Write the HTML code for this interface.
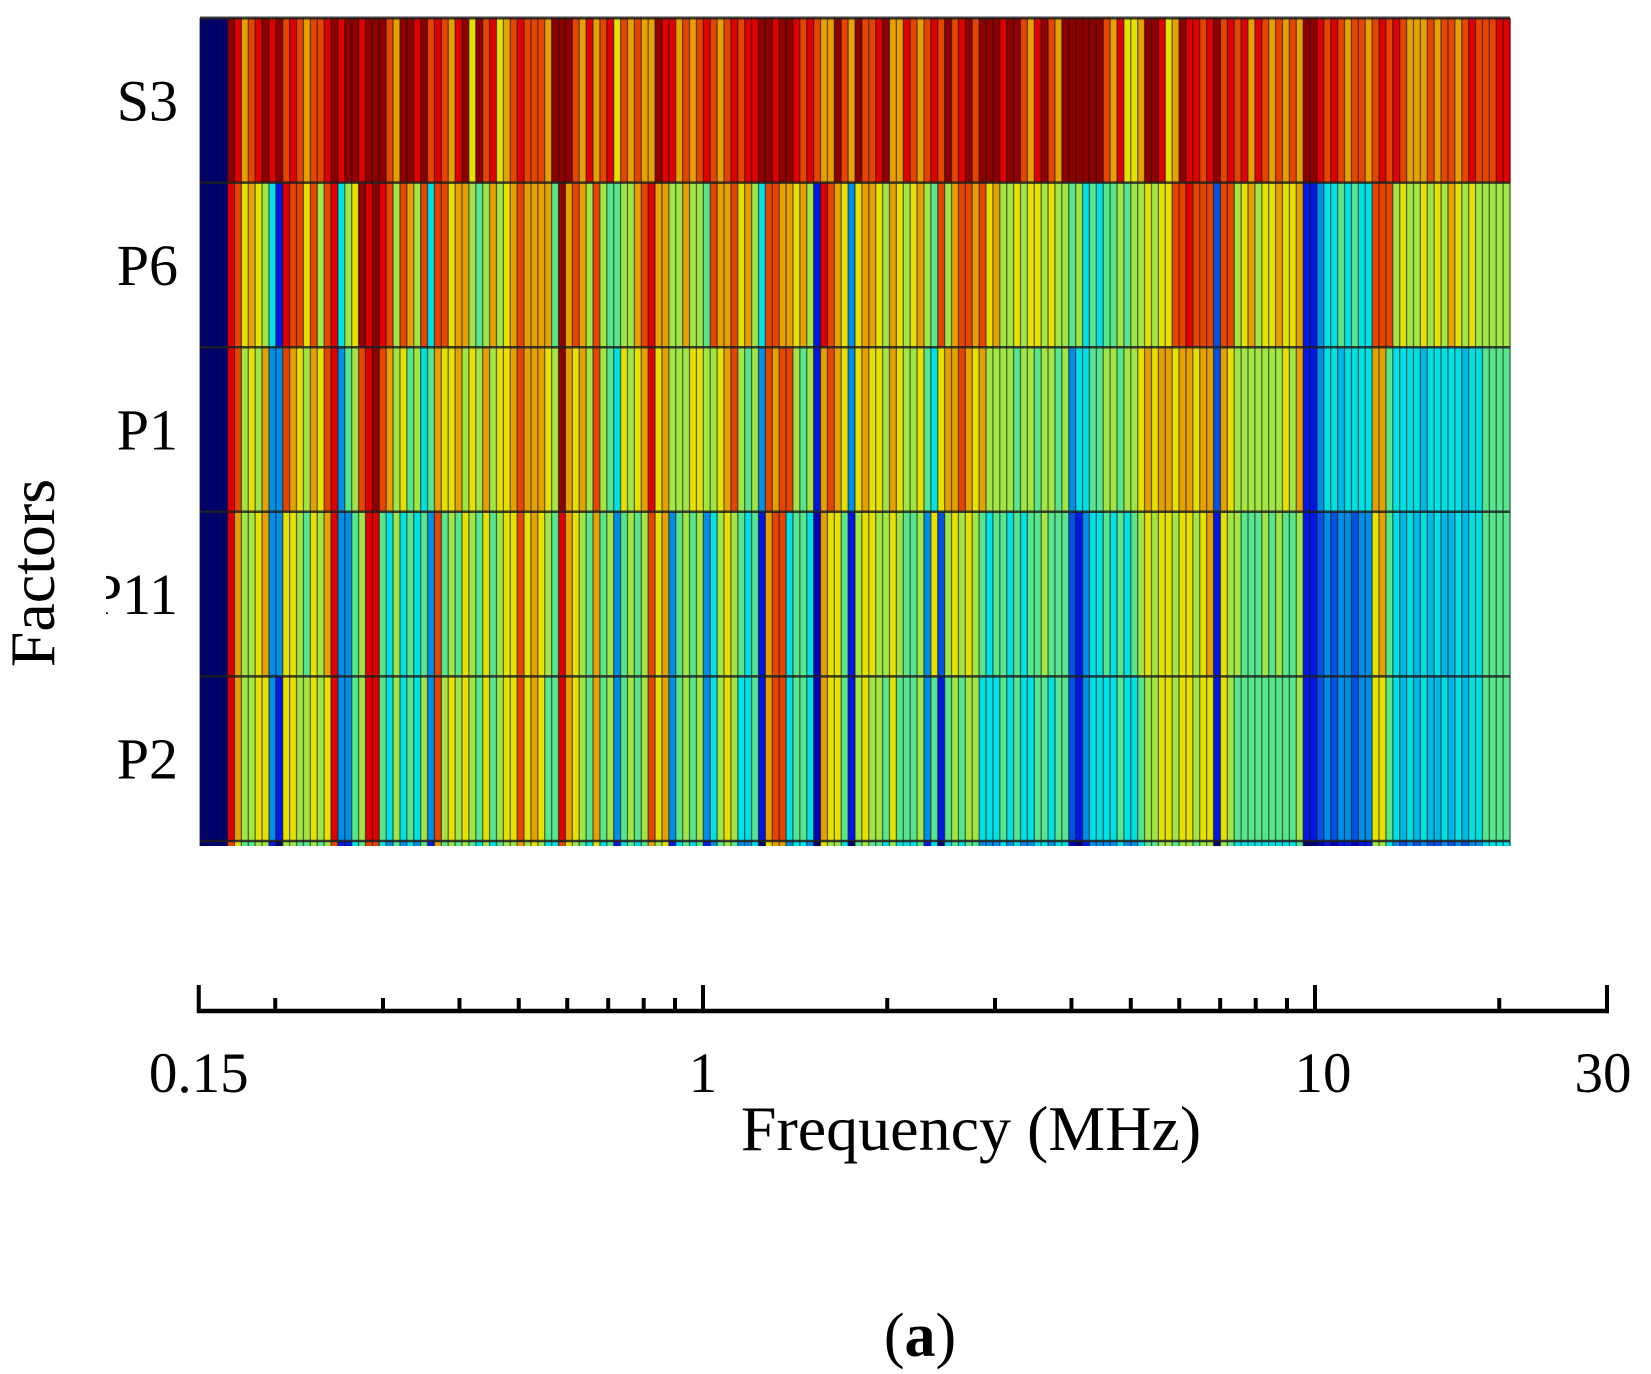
<!DOCTYPE html>
<html><head><meta charset="utf-8"><style>
html,body{margin:0;padding:0;background:#fff;}
svg{display:block;}
text{font-family:"Liberation Serif",serif;fill:#000;}
</style></head>
<body>
<svg id="chart" width="1651" height="1374" viewBox="0 0 1651 1374" xmlns="http://www.w3.org/2000/svg">
<g id="cells"></g>
<g id="grid"></g>
<g id="ylabels"></g>
<rect x="62" y="555" width="44" height="75" fill="#fff"/>
<text transform="translate(54,573) rotate(-90)" text-anchor="middle" font-size="64">Factors</text>
<g id="xaxis"></g>
<text x="971" y="1150" text-anchor="middle" font-size="64">Frequency (MHz)</text>
<text x="920" y="1356" text-anchor="middle" font-size="62">(<tspan font-weight="bold">a</tspan>)</text>
</svg>
<script>
const rowLabels = ["S3","P6","P1","P11","P2"];
const rowS3 = [0,0,0,0,10,9,7,8,9,10,9,10,8,9,8,7,8,8,9,10,9,10,10,9,10,10,10,8,7,10,10,9,10,8,9,8,7,9,10,6,10,8,9,6,7,8,9,8,8,
8,7,10,10,10,8,7,9,7,8,9,6,8,7,8,7,7,10,9,9,7,8,7,8,9,8,7,8,9,8,9,9,10,10,9,10,10,9,8,9,8,7,7,10,8,7,10,8,
8,9,10,7,7,9,8,7,8,9,8,10,8,9,10,8,10,10,10,9,10,10,8,7,9,10,8,7,10,10,10,10,10,10,8,7,9,6,6,7,10,10,9,6,7,10,9,9,8,
9,10,8,9,8,9,7,9,8,7,8,7,8,7,10,10,9,8,9,8,7,8,8,7,8,9,8,9,8,7,7,7,8,7,8,8,7,8,9,8,8,8,9,9];
const rowP6 = [0,0,0,0,9,8,6,7,6,5,3,1,9,8,8,6,8,5,8,9,3,5,6,10,9,10,9,8,5,8,7,5,8,3,8,8,6,7,7,5,4,5,7,5,6,7,8,7,7,
7,7,4,10,7,8,7,5,8,5,4,4,5,5,7,8,9,7,7,5,5,7,5,5,4,8,7,7,8,6,7,5,3,8,8,7,7,6,7,5,1,9,8,7,6,2,6,7,
7,6,5,7,6,5,6,7,5,4,8,5,7,8,8,7,8,6,7,5,5,6,5,6,6,5,6,5,5,4,5,3,4,3,4,4,5,4,5,5,6,5,6,6,8,8,9,8,8,
8,1.5,8,8,5,6,7,5,6,6,7,6,6,7,1,1,2,3,3,4,3,4,3,3,8,8,8,5,6,5,5,6,5,6,5,7,6,5,6,5,5,5,5,5];
const rowP1 = [0,0,0,0,9,8,5,6,5,7,2,2,8,7,6,5,7,6,8,9,2,4,5,8,9,10,8,7,5,6,4,5,3,4,7,6,6,7,5,6,5,7,5,6,6,7,8,7,7,
7,6,5,10,7,6,7,5,8,5,4,3,6,5,6,7,9,6,7,5,5,5,6,6,5,5,6,7,8,5,4,5,2,8,7,8,8,5,4,5,1,7,8,7,6,2,6,7,
6,6,5,7,6,5,5,6,4,3,6,7,7,8,7,6,7,5,5,5,5,4,5,5,4,5,5,4,5,2,3,3,4,4,5,5,4,5,5,6,7,6,7,7,6,7,7,6,7,
7,1.5,7,6,5,5,5,5,5,5,5,6,5,7,1,1,2,3,3,2.5,3,3,3,3,7,7,4,3,3,3,3,2.5,3,3,3,3,3,2.5,3,3,4,4,4,4];
const rowP11 = [0,0,0,0,9,7,5,5,6,7,2,2,6,6,5,4,6,5,7,9,2,2,4,5,9,9,4,3,5,3,4,3,4,2,8,4,5,4,6,5,4,6,4,5,6,6,8,6,7,
6,5,4,9,7,6,5,4,7,4,5,2,4,5,4,5,8,6,7,2,4,5,4,5,2,3,5,6,5,4,3,4,1,7,8,8,3,4,4,3,0.5,7,6,6,4,1,5,6,
6,5,5,6,5,4,4,5,2,6,1.5,5,6,5,6,5,4,3,4,4,3,4,3,4,4,5,4,4,4,1.5,1,2,3,3,4,3,4,3,4,5,6,5,6,6,5,6,6,5,6,
7,1,6,5,5,4,4,4,5,4,5,4,4,5,1,1,1.5,2,1.5,2,2,1.5,2,2,6,7,4,3,2.5,3,2.5,3,2.5,3,2.5,2.5,3,2.5,3,3,4,4,4,4];
const rowP2 = [0,0,0,0,9,7,5,5,6,6,2,1,6,6,5,5,6,5,6,9,2,2,4,5,9,9,4,3,5,3,4,3,5,2,8,5,6,5,6,5,4,6,4,5,6,6,8,6,7,
6,4,4,9,7,6,5,4,7,4,5,2,4,5,4,5,8,6,7,2,4,5,4,5,2,3,5,6,5,3,3,4,1,7,8,8,3,4,4,3,0.5,7,6,6,4,1,5,6,
5,5,4,6,4,4,4,5,2,4,1,4,5,4,5,5,3,3,3,4,3,4,3,3,4,4,3,4,4,1.5,1,2,3,3,3,3,4,3,3,4,5,5,6,6,5,6,6,5,6,
6,1,6,5,4,4,4,4,4,4,4,4,4,5,1,1,1.5,2,1.5,2,2,1.5,2,2,6,6,4,3,2.5,3,2.5,3,2.5,2.5,3,2.5,3,2.5,3,3,4,4,4,4];
const rows = [rowS3,rowP6,rowP1,rowP11,rowP2];
const majorTicks = [0.15,1,10,30];
const majorTickLabels = ["0.15","1","10","30"];
const minorTicks = [0.2,0.3,0.4,0.5,0.6,0.7,0.8,0.9,2,3,4,5,6,7,8,9,20];

const NS="http://www.w3.org/2000/svg";
const plotL=200, plotR=1510, plotT=18, rowH=164.6;
const nCols=rowS3.length;
const colW=(plotR-plotL)/nCols;
function xCol(i){return plotL+i*colW;}
function yRow(r){return plotT+r*rowH;}
const levelT=[0,0.15,0.28,0.37,0.47,0.55,0.63,0.7,0.8,0.88,0.97];
function jet(v){
  const lo=Math.floor(v), hi=Math.min(10,lo+1), f=v-lo;
  const t=levelT[lo]+(levelT[hi]-levelT[lo])*f;
  const c=x=>Math.round(255*Math.max(0,Math.min(1,x))*0.9);
  return `rgb(${c(1.5-Math.abs(4*t-3))},${c(1.5-Math.abs(4*t-2))},${c(1.5-Math.abs(4*t-1))})`;
}
const cells=document.getElementById('cells');
function cell(x,y,w,h,v){
  const r=document.createElementNS(NS,'rect');
  r.setAttribute('x',x);r.setAttribute('y',y);r.setAttribute('width',w+0.6);r.setAttribute('height',h);
  r.setAttribute('fill',jet(v));
  
  
  cells.appendChild(r);
}
rows.forEach((row,r)=>{row.forEach((v,i)=>cell(xCol(i),yRow(r),colW,rowH,v));});
rowP2.forEach((v,i)=>cell(xCol(i),yRow(5),colW,5,Math.max(0,v-1)));
const grid=document.getElementById('grid');
for(let i=0;i<=nCols;i++){
  const l=document.createElementNS(NS,'line');
  l.setAttribute('x1',xCol(i));l.setAttribute('x2',xCol(i));
  l.setAttribute('y1',plotT);l.setAttribute('y2',yRow(5)+5);
  l.setAttribute('stroke','rgba(20,20,20,0.6)');l.setAttribute('stroke-width',1.3);
  
  
  grid.appendChild(l);
}
for(let r=0;r<=5;r++){
  const l=document.createElementNS(NS,'line');
  l.setAttribute('x1',plotL);l.setAttribute('x2',plotR);
  l.setAttribute('y1',yRow(r));l.setAttribute('y2',yRow(r));
  l.setAttribute('stroke','rgba(30,30,30,0.85)');l.setAttribute('stroke-width',r===0?3:2.5);
  
  
  grid.appendChild(l);
}
const yl=document.getElementById('ylabels');
rowLabels.forEach((s,r)=>{
  const t=document.createElementNS(NS,'text');
  t.setAttribute('x',178);t.setAttribute('y',yRow(r)+rowH/2+20);
  t.setAttribute('text-anchor','end');t.setAttribute('font-size','58');
  t.textContent=s;
  
  
  yl.appendChild(t);
});
const axY=1011, decade=612, x1=703;
function xf(f){return x1+Math.log10(f)*decade;}
const xa=document.getElementById('xaxis');
const base=document.createElementNS(NS,'line');
base.setAttribute('x1',xf(0.15)-2);base.setAttribute('x2',xf(30)+2);base.setAttribute('y1',axY);base.setAttribute('y2',axY);
base.setAttribute('stroke','#000');base.setAttribute('stroke-width',4.5);


xa.appendChild(base);
function tick(f,len,name){
  const l=document.createElementNS(NS,'line');
  l.setAttribute('x1',xf(f));l.setAttribute('x2',xf(f));l.setAttribute('y1',axY);l.setAttribute('y2',axY-len);
  l.setAttribute('stroke','#000');l.setAttribute('stroke-width',4);
  
  
  xa.appendChild(l);
}
majorTicks.forEach(f=>tick(f,26,'x-major-tick'));
minorTicks.forEach(f=>tick(f,13,'x-minor-tick'));
majorTicks.forEach((f,i)=>{
  const t=document.createElementNS(NS,'text');
  t.setAttribute('x',xf(f)+(i===3?-4:(i===2?8:0)));t.setAttribute('y',1092);
  t.setAttribute('text-anchor','middle');t.setAttribute('font-size','57');
  t.textContent=majorTickLabels[i];
  
  
  xa.appendChild(t);
});
</script>
</body></html>
